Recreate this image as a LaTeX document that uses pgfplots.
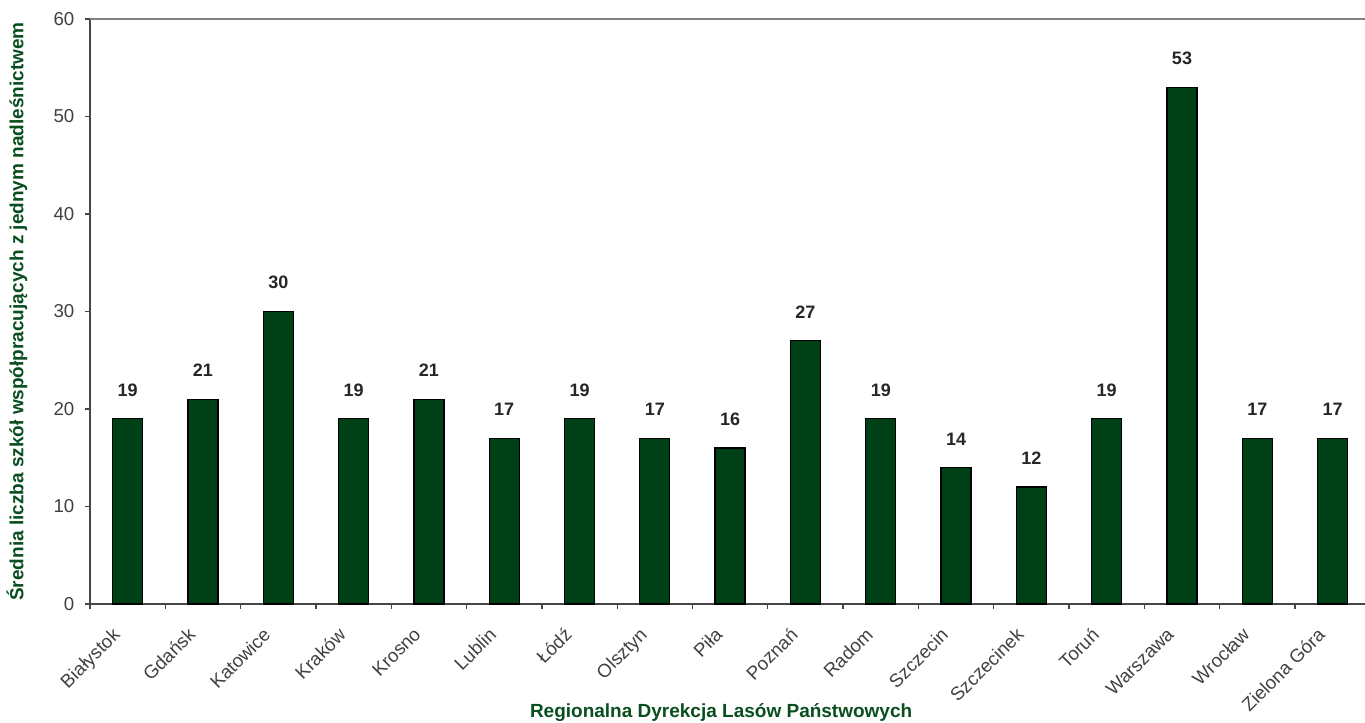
\documentclass[border=0pt]{standalone}
\usepackage{fontspec}
\setmainfont{Liberation Sans}
\usepackage{pgfplots}
\pgfplotsset{compat=1.18}
\definecolor{bargreen}{RGB}{0,64,22}
\definecolor{labgreen}{RGB}{8,78,30}
\definecolor{axgray}{RGB}{70,70,70}
\begin{document}
\begin{tikzpicture}
\begin{axis}[
  name=ax,
  scale only axis, width=956.25pt, height=438.75pt,
  at={(0,0)}, anchor=south west,
  xmin=-0.5, xmax=16.43, ymin=0, ymax=60,
  axis x line*=bottom, axis y line*=left,
  axis line style={draw=axgray, line width=1pt},
  clip=false,
  ytick={0,10,...,60},
  xtick={0,...,16},
  xticklabels={Białystok,Gdańsk,Katowice,Kraków,Krosno,Lublin,Łódź,Olsztyn,Piła,Poznań,Radom,Szczecin,Szczecinek,Toruń,Warszawa,Wrocław,Zielona Góra},
  minor xtick={-0.5,0.5,...,15.5},
  major x tick style={draw=none},
  minor x tick style={draw=axgray, line width=1pt},
  y tick style={draw=axgray, line width=1pt},
  tick align=outside,
  major tick length=3.75pt, minor tick length=3.75pt,
  /pgf/number format/assume math mode=true,
  yticklabel style={font=\fontsize{14}{16}\selectfont, text=black!75, xshift=-4.5pt},
  xticklabel style={font=\fontsize{14}{16}\selectfont, text=black!75, rotate=45, anchor=north east, inner sep=1pt, xshift=-16.8pt, yshift=0.5pt},
  ylabel={Średnia liczba szkół współpracujących z jednym nadleśnictwem},
  ylabel style={at={(axis description cs:0,0.5)}, anchor=center, yshift=54.75pt, font=\bfseries\fontsize{14.25}{16}\selectfont, text=labgreen},
  xlabel={Regionalna Dyrekcja Lasów Państwowych},
  xlabel style={at={(axis description cs:0.495,0)}, anchor=center, yshift=-81.75pt, font=\bfseries\fontsize{14.25}{16}\selectfont, text=labgreen},
  ybar, bar width=22.5pt,
  nodes near coords,
  every node near coord/.append style={font=\bfseries\fontsize{13.5}{15}\selectfont, text=black!85, yshift=13pt},
]
\addplot[fill=bargreen, draw=black, line width=1pt] coordinates {
(0,19) (1,21) (2,30) (3,19) (4,21) (5,17) (6,19) (7,17) (8,16) (9,27) (10,19) (11,14) (12,12) (13,19) (14,53) (15,17) (16,17)};
\draw[draw=black!50, line width=1pt] (rel axis cs:0,1) -- (rel axis cs:1,1);
\end{axis}
\pgfresetboundingbox
\path[use as bounding box] ([shift={(-67.5pt,-89.25pt)}]ax.south west) rectangle ([shift={(956.25pt,453pt)}]ax.south west);
\end{tikzpicture}
\end{document}
